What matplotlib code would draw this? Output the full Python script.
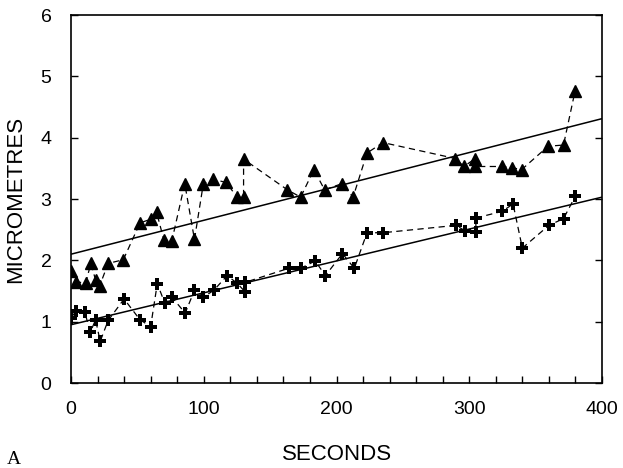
import matplotlib
matplotlib.use("Agg")
import matplotlib.pyplot as plt
import numpy as np

# Triangle series (seconds, micrometres)
tri_x = [0, 3.6, 11, 15, 18.5, 21.5, 28, 39.4, 52, 60, 64.5, 70, 76, 85.7, 93, 99.7,
         107, 117, 125, 130, 130, 163, 173, 183, 191, 204, 212.5, 223, 235, 289.6,
         296, 304.5, 304.5, 324.5, 332, 339.5, 359.4, 371, 379.7]
tri_y = [1.82, 1.65, 1.63, 1.95, 1.68, 1.58, 1.95, 2.01, 2.61, 2.67, 2.78, 2.33, 2.32, 3.25,
         2.34, 3.25, 3.32, 3.27, 3.03, 3.03, 3.65, 3.15, 3.03, 3.48, 3.15, 3.25, 3.03, 3.75,
         3.92, 3.66, 3.53, 3.66, 3.53, 3.53, 3.51, 3.48, 3.86, 3.88, 4.76]

# Cross series
crs_x = [0, 4, 10.4, 14.6, 18.5, 22, 28, 40, 52, 60, 65, 70.7, 76, 86, 93, 99.7, 107.5,
         117.6, 125, 131, 131, 164, 173, 184, 191.6, 204.5, 213.4, 223, 235, 290, 297,
         305, 305, 325, 333, 340, 360, 371, 380]
crs_y = [1.06, 1.18, 1.15, 0.83, 1.03, 0.68, 1.02, 1.37, 1.03, 0.92, 1.62, 1.30, 1.40, 1.14,
         1.51, 1.40, 1.51, 1.75, 1.63, 1.49, 1.64, 1.87, 1.87, 1.99, 1.75, 2.11, 1.87, 2.45,
         2.45, 2.57, 2.48, 2.46, 2.69, 2.80, 2.92, 2.20, 2.57, 2.68, 3.05]

# Regression lines (endpoints)
fit_x = [0, 400]
tri_fit_y = [2.10, 4.31]
crs_fit_y = [0.95, 3.03]

x_ticks = [0, 100, 200, 300, 400]
y_ticks = [0, 1, 2, 3, 4, 5, 6]

plt.rcParams['font.family'] = ['Liberation Sans', 'DejaVu Sans']

fig = plt.figure(figsize=(6.23, 4.68), dpi=100)
ax = fig.add_axes([71/623, 1-383/468, (602-71)/623, (383-15)/468])

ax.plot(fit_x, tri_fit_y, color='black', lw=1.1, solid_capstyle='butt')
ax.plot(fit_x, crs_fit_y, color='black', lw=1.1, solid_capstyle='butt')
ax.plot(tri_x, tri_y, color='black', lw=0.9, ls=(0, (5, 3.5)), marker='^',
        markersize=8.5, markerfacecolor='black', markeredgecolor='black')
ax.plot(crs_x, crs_y, color='black', lw=0.9, ls=(0, (5, 3.5)), marker='P',
        markersize=8.5, markerfacecolor='black', markeredgecolor='black', markeredgewidth=0)

ax.set_xlim(0, 400)
ax.set_ylim(0, 6)
ax.set_xticks(x_ticks)
ax.set_xticks(np.arange(0, 401, 20), minor=True)
ax.set_yticks(y_ticks)
ax.tick_params(axis='x', which='both', direction='in', length=5, width=1,
               top=False, pad=13, labelsize=14)
ax.tick_params(axis='y', which='both', direction='in', length=5, width=1,
               right=True, pad=14, labelsize=14)
for s in ax.spines.values():
    s.set_linewidth(1.2)

fig.text(337/623, 1-455/468, 'SECONDS', ha='center', va='center', fontsize=16)
fig.text(16/623, 1-199/468, 'MICROMETRES', ha='center', va='center', rotation=90, fontsize=16)
fig.text(7/623, 1-459/468, 'A', ha='left', va='center', fontsize=14,
         family='Liberation Serif')

fig.savefig('out.png', dpi=100)
